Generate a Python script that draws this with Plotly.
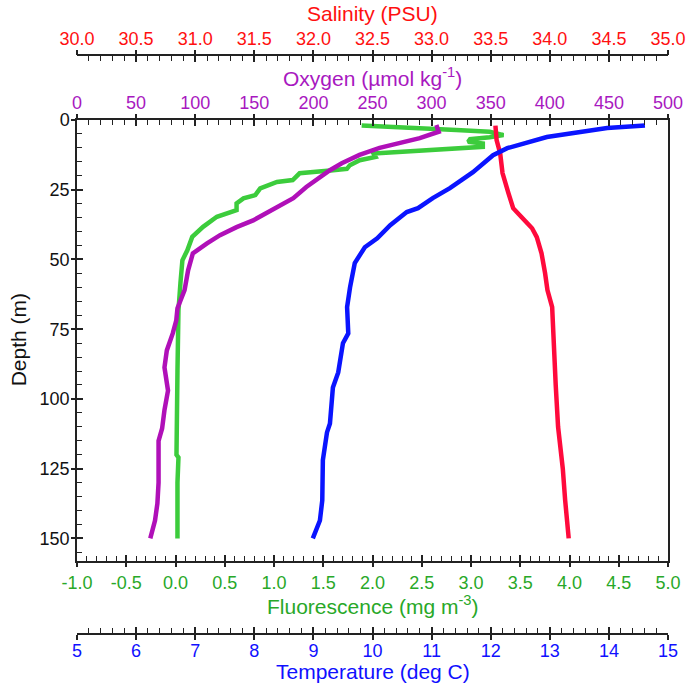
import plotly.graph_objects as go

# ---------------- data ----------------
temp_depth = [2.0, 2.9, 6.1, 10.1, 12.6, 18.7, 24.4, 28.0, 31.6, 33.0, 37.7, 42.4, 45.6,
              51.3, 60.0, 67.1, 76.5, 80.0, 90.5, 95.9, 108.8, 112.0, 122.0, 136.4, 143.6, 150.0]
temperature = [14.61, 13.97, 12.95, 12.28, 12.04, 11.70, 11.31, 11.02, 10.77, 10.58, 10.30, 10.08, 9.87,
               9.70, 9.62, 9.57, 9.59, 9.50, 9.42, 9.33, 9.28, 9.23, 9.16, 9.15, 9.11, 8.99]

sal_depth = [2.0, 7.2, 11.9, 19.0, 26.2, 31.6, 34.8, 38.8, 42.0, 47.8, 54.9, 61.0, 67.1,
             80.0, 95.0, 110.0, 125.0, 136.4, 150.0]
salinity = [33.54, 33.55, 33.58, 33.60, 33.65, 33.69, 33.76, 33.85, 33.89, 33.93, 33.96, 33.98, 34.02,
            34.03, 34.05, 34.07, 34.11, 34.13, 34.16]

oxy_depth = [1.8, 4.2, 6.5, 8.3, 10.0, 12.5, 15.5, 18.0, 24.0, 28.0, 31.2, 36.0, 38.4, 41.3, 44.2,
             47.8, 53.9, 61.0, 67.5, 71.8, 76.5, 82.6, 88.7, 97.0, 104.0, 110.6, 115.0, 130.0,
             137.5, 143.6, 150.0]
oxygen = [304, 306, 290, 273, 256, 239, 224, 214, 194, 183, 169, 149, 135, 121, 110,
          98, 94, 91, 85, 84, 81, 76, 74, 77, 74, 72, 69, 69,
          68, 66, 62]

flu_depth = [2.0, 2.6, 3.6, 4.2, 5.4, 6.2, 6.9, 7.8, 8.4, 9.6, 10.4, 11.4, 12.0, 13.2, 14.4,
             16.2, 17.5, 18.0, 18.3, 19.1, 21.5, 22.2, 24.5, 26.9, 28.1, 29.9, 32.3, 34.7,
             38.3, 41.9, 46.7, 50.3, 58.5, 68.2, 90.0, 110.0, 120.0, 121.0, 130.0, 150.0]
fluorescence = [1.89, 2.35, 2.85, 3.19, 3.33, 3.19, 2.99, 2.97, 3.12, 3.12, 2.69, 2.18, 2.01, 2.03, 1.87,
                1.77, 1.74, 1.60, 1.50, 1.26, 1.19, 1.03, 0.86, 0.81, 0.69, 0.62, 0.62, 0.42,
                0.28, 0.17, 0.12, 0.07, 0.05, 0.03, 0.02, 0.02, 0.01, 0.03, 0.02, 0.02]

# tick labels
sal_ticks = [30.0, 30.5, 31.0, 31.5, 32.0, 32.5, 33.0, 33.5, 34.0, 34.5, 35.0]
sal_ticktext = ["30.0", "30.5", "31.0", "31.5", "32.0", "32.5", "33.0", "33.5", "34.0", "34.5", "35.0"]
oxy_ticks = [0, 50, 100, 150, 200, 250, 300, 350, 400, 450, 500]
oxy_ticktext = ["0", "50", "100", "150", "200", "250", "300", "350", "400", "450", "500"]
flu_ticks = [-1.0, -0.5, 0.0, 0.5, 1.0, 1.5, 2.0, 2.5, 3.0, 3.5, 4.0, 4.5, 5.0]
flu_ticktext = ["-1.0", "-0.5", "0.0", "0.5", "1.0", "1.5", "2.0", "2.5", "3.0", "3.5", "4.0", "4.5", "5.0"]
temp_ticks = [5, 6, 7, 8, 9, 10, 11, 12, 13, 14, 15]
temp_ticktext = ["5", "6", "7", "8", "9", "10", "11", "12", "13", "14", "15"]
depth_ticks = [0, 25, 50, 75, 100, 125, 150]
depth_ticktext = ["0", "25", "50", "75", "100", "125", "150"]

# axis titles
title_sal = "Salinity (PSU)"
title_oxy = "Oxygen (µmol kg<sup>-1</sup>)"
title_flu = "Fluorescence (mg m<sup>-3</sup>)"
title_temp = "Temperature (deg C)"
title_depth = "Depth (m)"

# ---------------- style ----------------
FONT = "Liberation Sans, Arial, sans-serif"
RED_T, RED_L = "#ff1010", "#ff0a3c"
PUR_T, PUR_L = "#a818c0", "#b010b8"
GRN_T, GRN_L = "#28a828", "#3ccc3c"
BLU_T, BLU_L = "#1010ff", "#0a14ff"
AX = "#222222"
TICKF = 18
TITLEF = 21
LW = 4.5

fig = go.Figure()
fig.add_trace(go.Scatter(x=fluorescence, y=flu_depth, mode="lines", xaxis="x", yaxis="y",
                         line=dict(color=GRN_L, width=LW), name="Fluorescence"))
fig.add_trace(go.Scatter(x=oxygen, y=oxy_depth, mode="lines", xaxis="x2", yaxis="y",
                         line=dict(color=PUR_L, width=LW), name="Oxygen"))
fig.add_trace(go.Scatter(x=temperature, y=temp_depth, mode="lines", xaxis="x4", yaxis="y",
                         line=dict(color=BLU_L, width=LW), name="Temperature"))
fig.add_trace(go.Scatter(x=salinity, y=sal_depth, mode="lines", xaxis="x3", yaxis="y",
                         line=dict(color=RED_L, width=LW), name="Salinity"))
# empty traces to activate twin tick axes (outer half of the crossing major ticks)
for xa, ya in [("x5", "y"), ("x6", "y"), ("x7", "y"), ("x8", "y"), ("x", "y2")]:
    fig.add_trace(go.Scatter(x=[], y=[], xaxis=xa, yaxis=ya, showlegend=False, hoverinfo="skip"))

W, H = 689, 691
ML, MR, MT, MB = 77, 21, 55, 57
Y0, Y1 = 0.1266, 0.8877


def xaxis_main(rng, vals, text, color, side, minor_dtick, lblstand,
               anchor="y", position=None, overlaying=None):
    d = dict(range=rng, tickvals=vals, ticktext=text, side=side, anchor=anchor,
             showline=True, linecolor=AX, linewidth=1.5,
             ticks="inside", ticklen=6, tickwidth=1.5, tickcolor=AX,
             ticklabelstandoff=lblstand,
             minor=dict(ticks="inside", ticklen=5, tickwidth=1.2, tickcolor=AX, dtick=minor_dtick,
                        showgrid=False),
             tickfont=dict(family=FONT, size=TICKF, color=color),
             showgrid=False, zeroline=False, automargin=False, fixedrange=True)
    if position is not None:
        d["position"] = position
    if overlaying is not None:
        d["overlaying"] = overlaying
    return d


def xaxis_twin(rng, vals, side, anchor="y", position=None):
    d = dict(range=rng, tickvals=vals, showticklabels=False, side=side, anchor=anchor, overlaying="x",
             showline=False, ticks="outside", ticklen=5, tickwidth=1.5, tickcolor=AX,
             showgrid=False, zeroline=False, automargin=False, fixedrange=True)
    if position is not None:
        d["position"] = position
    return d


def axis_title(text, color, y, yshift):
    return dict(text=text, xref="paper", yref="paper", x=0.5, y=y, xanchor="center", yanchor="middle",
                yshift=yshift, showarrow=False, font=dict(family=FONT, size=TITLEF, color=color))


fig.update_layout(
    width=W, height=H,
    margin=dict(l=ML, r=MR, t=MT, b=MB, autoexpand=False),
    paper_bgcolor="white", plot_bgcolor="white",
    showlegend=False,
    font=dict(family=FONT, color="#111111"),
    xaxis=xaxis_main([-1, 5], flu_ticks, flu_ticktext, GRN_T, "bottom", 0.1, 5),
    xaxis2=xaxis_main([0, 500], oxy_ticks, oxy_ticktext, PUR_T, "top", 10, 2, overlaying="x"),
    xaxis3=xaxis_main([30, 35], sal_ticks, sal_ticktext, RED_T, "top", 0.1, 2,
                      anchor="free", position=1, overlaying="x"),
    xaxis4=xaxis_main([5, 15], temp_ticks, temp_ticktext, BLU_T, "bottom", 0.2, 1,
                      anchor="free", position=0, overlaying="x"),
    xaxis5=xaxis_twin([-1, 5], flu_ticks, "bottom"),
    xaxis6=xaxis_twin([0, 500], oxy_ticks, "top"),
    xaxis7=xaxis_twin([30, 35], sal_ticks, "top", anchor="free", position=1),
    xaxis8=xaxis_twin([5, 15], temp_ticks, "bottom", anchor="free", position=0),
    yaxis=dict(range=[158, 0], domain=[Y0, Y1], tickvals=depth_ticks, ticktext=depth_ticktext,
               showline=True, linecolor=AX, linewidth=1.5, mirror=True,
               ticks="inside", ticklen=6, tickwidth=1.5, tickcolor=AX, ticklabelstandoff=2,
               minor=dict(ticks="inside", ticklen=5, tickwidth=1.2, tickcolor=AX, dtick=5, showgrid=False),
               tickfont=dict(family=FONT, size=TICKF, color="#111111"),
               showgrid=False, zeroline=False, automargin=False, fixedrange=True),
    yaxis2=dict(range=[158, 0], domain=[Y0, Y1], tickvals=depth_ticks, showticklabels=False,
                overlaying="y", anchor="x", side="left", showline=False,
                ticks="outside", ticklen=5, tickwidth=1.5, tickcolor=AX,
                showgrid=False, zeroline=False, automargin=False, fixedrange=True),
    annotations=[
        axis_title(title_sal, RED_T, 1, 42),
        axis_title(title_oxy, PUR_T, 1, -22),
        axis_title(title_flu, GRN_T, 0, 29),
        axis_title(title_temp, BLU_T, 0, -37),
        dict(text=title_depth, xref="paper", yref="paper", x=0, y=(Y0 + Y1) / 2,
             xanchor="center", yanchor="middle", xshift=-59, textangle=-90, showarrow=False,
             font=dict(family=FONT, size=TITLEF, color="#111111")),
    ],
)

# remove the default 8px page margin so the figure sits at the window's top-left corner
fig.write_html("out.html", config={"displayModeBar": False},
               post_script="document.body.style.margin='0px';")
